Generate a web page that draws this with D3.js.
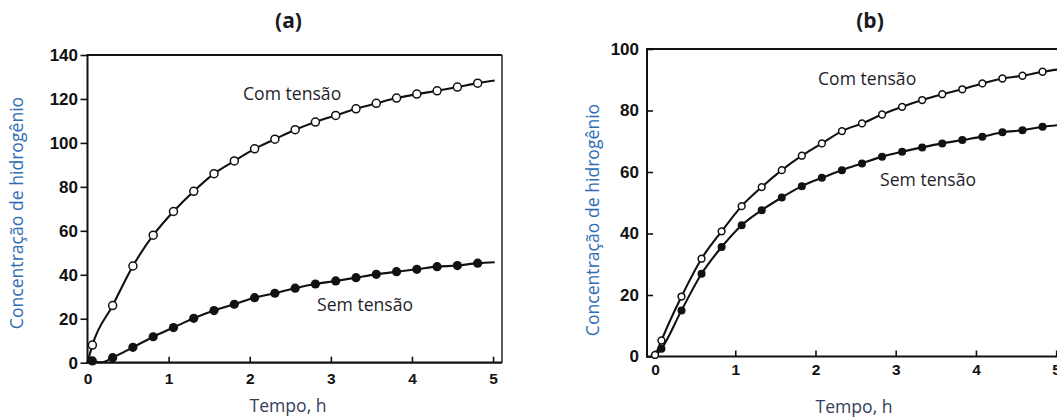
<!DOCTYPE html>
<html><head><meta charset="utf-8">
<script src="https://cdn.jsdelivr.net/npm/d3@7"></script>
<style>
html,body{margin:0;padding:0;background:#fff;}
svg{display:block;}
</style></head>
<body>
<svg id="chart" width="1057" height="418"></svg>
<script>
// ---------- DATA ----------
const timesA = [0.06,0.31,0.56,0.81,1.06,1.31,1.56,1.81,2.06,2.31,2.56,2.81,3.06,3.31,3.56,3.81,4.06,4.31,4.56,4.81];
const comA   = [8,26,44,58,68.8,78,86,91.8,97.3,101.7,106,109.5,112.5,115.5,118,120.4,122.2,123.7,125.4,127.2];
const semA   = [0.8,2.3,7,11.8,16,20.2,23.7,26.6,29.6,31.6,33.9,35.8,37.2,38.7,40.2,41.4,42.5,43.7,44.2,45.3];
// curve start / end anchors
const comAStart = [[0,0]], comAEnd = [[5.02,128.4]];
const semAStart = [[0,1],[0.18,0.2]], semAEnd = [[5.02,45.7]];

const timesB = [0.08,0.33,0.58,0.83,1.08,1.33,1.58,1.83,2.08,2.33,2.58,2.83,3.08,3.33,3.58,3.83,4.08,4.33,4.58,4.83];
const comB   = [5.2,19.5,31.8,40.7,48.9,55.1,60.6,65.3,69.3,73.3,75.8,78.7,81.2,83.4,85.3,86.9,88.8,90.4,91.3,92.6];
const semB   = [2.5,15,26.9,35.6,42.7,47.6,51.7,55.4,58.1,60.6,62.8,65,66.6,68,69.3,70.4,71.5,72.9,73.6,74.7];
const comBStart = [[0,0]], comBEnd = [[5.1,93.6]];
const semBStart = [[0,0]], semBEnd = [[5.1,75.4]];
const comBExtra = [[0,0.5]];

const xTicks = [0,1,2,3,4,5];
const yTicksA = [0,20,40,60,80,100,120,140];
const yTicksB = [0,20,40,60,80,100];

const titles = ["(a)","(b)"];
const yLabel = "Concentração de hidrogênio";
const xLabel = "Tempo, h";
const seriesNames = ["Com tensão","Sem tensão"];

// ---------- DRAW ----------
const svg = d3.select("#chart");
const labelFont = "'Open Sans', sans-serif";
const tickFont = "'Liberation Sans', Arial, sans-serif";

function panel(cfg){
  const x = d3.scaleLinear().domain(cfg.xDomain).range([cfg.left, cfg.right]);
  const y = d3.scaleLinear().domain(cfg.yDomain).range([cfg.bottom, cfg.top]);
  const g = svg.append("g");

  // curves
  const line = d3.line().x(d=>x(d[0])).y(d=>y(d[1])).curve(d3.curveMonotoneX);
  cfg.curves.forEach(c=>{
    g.append("path").attr("d", line(c)).attr("fill","none")
      .attr("stroke","#111").attr("stroke-width",2.1).attr("stroke-linejoin","round");
  });

  // frame
  g.append("line").attr("x1",x(cfg.xDomain[0])).attr("x2",x(cfg.xDomain[1])).attr("y1",y(cfg.yDomain[1])).attr("y2",y(cfg.yDomain[1]))
    .attr("stroke","#111").attr("stroke-width",2);
  g.append("line").attr("x1",x(cfg.xDomain[1])).attr("x2",x(cfg.xDomain[1])).attr("y1",y(cfg.yDomain[0])).attr("y2",y(cfg.yDomain[1]))
    .attr("stroke","#333").attr("stroke-width",1.6);
  g.append("line").attr("x1",x(cfg.xDomain[0])).attr("x2",x(cfg.xDomain[0])).attr("y1",y(cfg.yDomain[0])+1).attr("y2",y(cfg.yDomain[1])-1)
    .attr("stroke","#111").attr("stroke-width",2);
  g.append("line").attr("x1",x(cfg.xDomain[0])-1).attr("x2",x(cfg.xDomain[1])).attr("y1",y(cfg.yDomain[0])).attr("y2",y(cfg.yDomain[0]))
    .attr("stroke","#111").attr("stroke-width",2.2);

  // axes
  const xa = g.append("g").attr("transform",`translate(0,${y(cfg.yDomain[0])})`)
    .call(d3.axisBottom(x).tickValues(xTicks).tickFormat(d3.format("d")).tickSize(-6).tickPadding(cfg.xPad));
  xa.select(".domain").remove();
  xa.selectAll("line").attr("stroke","#111").attr("stroke-width",1.6);
  xa.selectAll("text").attr("font-family",tickFont).attr("font-weight","bold").attr("font-size",15.5).attr("fill","#111");

  const ya = g.append("g").attr("transform",`translate(${x(cfg.xDomain[0])},0)`)
    .call(d3.axisLeft(y).tickValues(cfg.yTicks).tickFormat(d3.format("d")).tickSize(cfg.yTick).tickPadding(cfg.yPad));
  ya.select(".domain").remove();
  ya.selectAll("line").attr("stroke","#111").attr("stroke-width",1.6);
  ya.selectAll("text").attr("font-family",tickFont).attr("font-weight","bold").attr("font-size",17).attr("fill","#111");

  // markers
  cfg.open.forEach(d=>{
    g.append("circle").attr("cx",x(d[0])).attr("cy",y(d[1])).attr("r",cfg.r)
      .attr("fill","#fff").attr("stroke","#111").attr("stroke-width",1.5);
  });
  cfg.filled.forEach(d=>{
    g.append("circle").attr("cx",x(d[0])).attr("cy",y(d[1])).attr("r",cfg.r+0.6)
      .attr("fill","#111").attr("stroke","none");
  });

  // title
  g.append("text").attr("x",cfg.titleX).attr("y",28).attr("text-anchor","middle")
    .attr("font-family",labelFont).attr("font-weight","bold").attr("font-size",21).attr("fill","#1a1a22").text(cfg.title);
  // y label
  g.append("text").attr("transform",`translate(${cfg.yLabelX},${cfg.yLabelY}) rotate(-90)`).attr("text-anchor","middle")
    .attr("font-family",labelFont).attr("font-size",17.6).attr("fill","#2f6db5").text(yLabel);
  // x label
  g.append("text").attr("x",cfg.xLabelX).attr("y",cfg.xLabelY).attr("text-anchor","middle")
    .attr("font-family",labelFont).attr("font-size",17.6).attr("fill","#34405a").text(xLabel);
  // series labels
  cfg.seriesLabels.forEach((p,i)=>{
    g.append("text").attr("x",p[0]).attr("y",p[1])
      .attr("font-family",labelFont).attr("font-size",17.6).attr("fill","#1e1e2a").text(seriesNames[i]);
  });
}

const zip = (t,v)=>t.map((d,i)=>[d,v[i]]);

panel({
  xDomain:[0,5.11], yDomain:[0,140], left:87.5, right:502, top:55, bottom:362.7,
  yTicks:yTicksA, yTick:7, yPad:2.5, xPad:10.3, r:4,
  curves:[ comAStart.concat(zip(timesA,comA), comAEnd), semAStart.concat(zip(timesA,semA).slice(1), semAEnd) ],
  open: zip(timesA,comA), filled: zip(timesA,semA),
  title: titles[0], titleX:288.5,
  yLabelX:23, yLabelY:213, xLabelX:288, xLabelY:412,
  seriesLabels:[[243,100],[317,311]]
});

panel({
  xDomain:[-0.1,5.11], yDomain:[0,100], left:647, right:1065, top:49, bottom:356.5,
  yTicks:yTicksB, yTick:-6, yPad:8, xPad:7.5, r:3.4,
  curves:[ comBStart.concat(zip(timesB,comB), comBEnd), semBStart.concat(zip(timesB,semB), semBEnd) ],
  open: comBExtra.concat(zip(timesB,comB)), filled: zip(timesB,semB),
  title: titles[1], titleX:870,
  yLabelX:599, yLabelY:220, xLabelX:854, xLabelY:413,
  seriesLabels:[[818,85],[880,186]]
});
</script>
</body></html>
